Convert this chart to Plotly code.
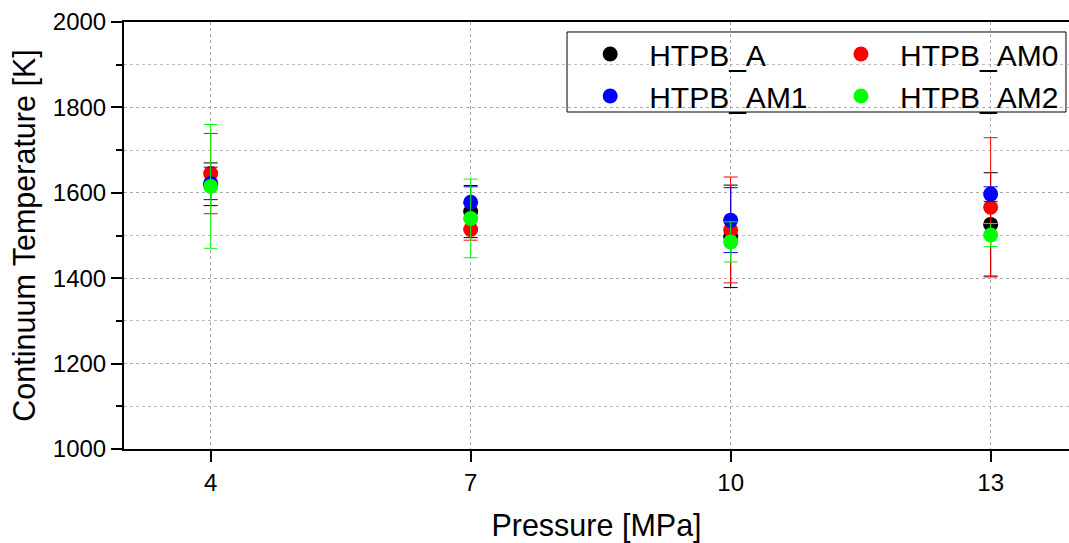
import plotly.graph_objects as go

pressure = [4, 7, 10, 13]

series_names = ["HTPB_A", "HTPB_AM0", "HTPB_AM1", "HTPB_AM2"]
series_colors = ["#000000", "#ff0000", "#0000ff", "#00ff00"]

temp_A = [1620, 1556, 1498, 1526]
err_A = [50, 61, 120, 121]

temp_AM0 = [1645, 1514, 1513, 1566]
err_AM0 = [94, 25, 124, 163]

temp_AM1 = [1622, 1578, 1536, 1597]
err_AM1 = [38, 36, 76, 17]

temp_AM2 = [1615, 1540, 1485, 1501]
err_AM2 = [145, 92, 47, 27]

temps = [temp_A, temp_AM0, temp_AM1, temp_AM2]
errs = [err_A, err_AM0, err_AM1, err_AM2]
legend_ids = ["legend", "legend2", "legend", "legend2"]

fig = go.Figure()
for name, color, t, e, lg in zip(series_names, series_colors, temps, errs, legend_ids):
    fig.add_trace(go.Scatter(
        x=pressure, y=t, mode="markers", name=name, legend=lg, legendgroup=name,
        marker=dict(color=color, size=15, line=dict(width=0)),
        error_y=dict(type="data", array=e, visible=True, color=color,
                     thickness=1, width=7),
    ))

font_family = "Liberation Sans, Arial, sans-serif"

legend_common = dict(
    yanchor="top", xanchor="left", orientation="v",
    bgcolor="rgba(0,0,0,0)", borderwidth=0,
    font=dict(size=30, family=font_family, color="black"),
    itemsizing="trace", tracegroupgap=0, itemwidth=68,
)

fig.update_layout(
    width=1069, height=543,
    margin=dict(l=124, r=0, t=22, b=94, autoexpand=False),
    paper_bgcolor="white", plot_bgcolor="white",
    font=dict(family=font_family, color="black"),
    showlegend=True,
    legend=dict(x=0.4732, y=0.986, **legend_common),
    legend2=dict(x=0.7386, y=0.986, **legend_common),
    shapes=[dict(type="rect", xref="paper", yref="paper",
                 x0=0.4688, x1=0.9968, y0=0.7892, y1=0.9766,
                 line=dict(color="black", width=1), fillcolor="white",
                 layer="between")],
    xaxis=dict(
        range=[3, 13.904], tickvals=pressure, ticktext=[str(p) for p in pressure],
        showline=True, linecolor="black", linewidth=2, mirror=True,
        ticks="outside", ticklen=11, tickwidth=2, tickcolor="black",
        tickfont=dict(size=24), zeroline=False,
        showgrid=True, gridcolor="#aaaaaa", griddash="dot", gridwidth=1,
        title=dict(text="Pressure [MPa]", font=dict(size=30.5), standoff=22),
    ),
    yaxis=dict(
        range=[1000, 2000], tickvals=[1000, 1200, 1400, 1600, 1800, 2000],
        showline=True, linecolor="black", linewidth=2,
        ticks="outside", ticklen=11, tickwidth=2, tickcolor="black",
        tickfont=dict(size=24), zeroline=False,
        showgrid=True, gridcolor="#aaaaaa", griddash="dot", gridwidth=1,
        minor=dict(dtick=100, tick0=1000, ticks="outside", ticklen=6, tickwidth=2,
                   tickcolor="black", showgrid=True, gridcolor="#bbbbbb",
                   griddash="dot", gridwidth=1),
        title=dict(text="Continuum Temperature [K]", font=dict(size=30.5), standoff=8),
    ),
)

fig.write_html(
    "out.html",
    config={"displayModeBar": False},
    post_script="document.body.style.margin='0';document.body.style.overflow='hidden';",
)
